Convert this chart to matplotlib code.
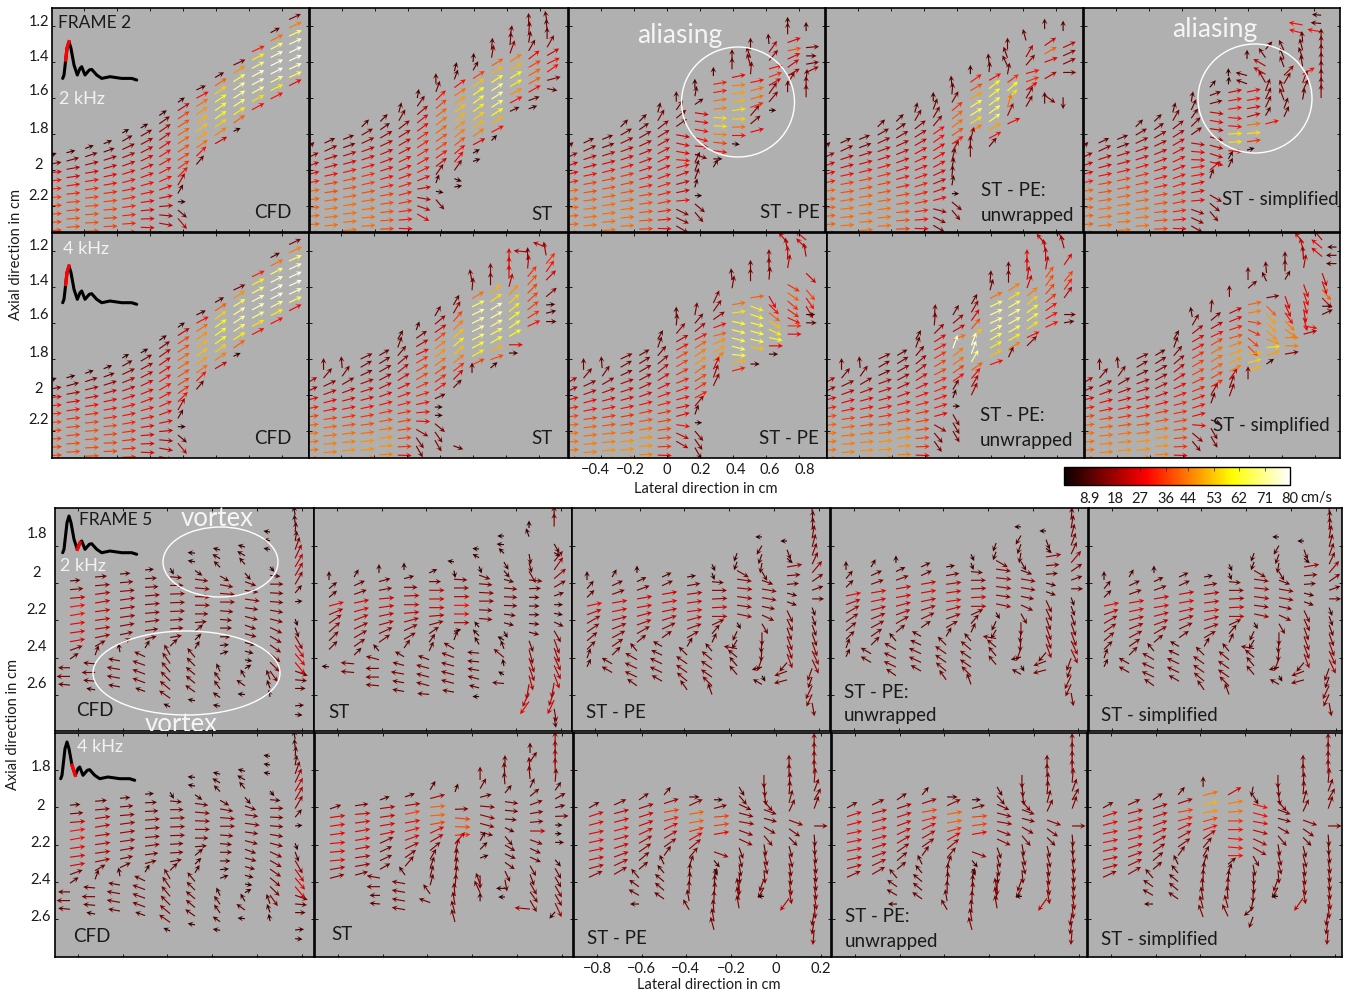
import numpy as np
import matplotlib
matplotlib.use('Agg')
import matplotlib.pyplot as plt
from matplotlib.cm import ScalarMappable
from matplotlib.colors import Normalize
from matplotlib.lines import Line2D
from matplotlib.patches import Ellipse

plt.rcParams['font.family'] = ['Lato', 'DejaVu Sans']
W, H = 1353, 999

# column positions (cm), arrow tails
F2_X = [-0.618, -0.506, -0.393, -0.281, -0.168, -0.056, 0.056, 0.169, 0.281, 0.394, 0.506, 0.618, 0.731, 0.843, 0.93]
F5_X = [-0.835, -0.723, -0.612, -0.5, -0.388, -0.277, -0.165, -0.054, 0.058, 0.17]
F2_DY = 0.046
F5_DY = 0.0465

# each column: (top row in cm, angle in degrees per row, speed in cm/s per row; speed 0 = no arrow)
F2_CFD = [
    (1.923, [20,10,5,5,5,3,3,3,3,3], [8,15,26,30,33,36,36,36,36,36]),
    (1.904, [15,15,10,8,8,6,5,5,4,4,3], [8,14,20,26,30,33,36,36,38,38,38]),
    (1.88, [20,18,14,10,9,8,6,5,4,3,2], [8,14,20,26,30,33,36,38,38,38,38]),
    (1.854, [22,20,18,15,12,10,8,6,5,3,2,0], [8,12,18,24,28,30,33,36,36,36,36,36]),
    (1.794, [30,30,25,22,20,18,15,12,10,8,6,4,2,0], [6,12,16,20,24,28,30,30,33,33,33,33,33,33]),
    (1.766, [30,30,28,27,25,22,20,16,12,8,5,2,-2,-5], [7,14,18,22,25,27,28,30,30,28,26,26,26,24]),
    (1.697, [35,35,35,35,33,32,30,28,24,20,12,5,-5,-10,-15], [8,14,20,24,28,30,30,30,30,28,26,22,20,22,26]),
    (1.624, [35,33,33,33,33,33,33,33,35,45,60,60,0,-40,-50], [7,22,36,38,40,40,38,36,34,30,20,10,6,12,22]),
    (1.555, [25,28,33,35,35,35,35,35,45,50], [10,30,42,46,50,52,48,42,30,12]),
    (1.486, [30,33,35,35,35,35,35,35,30], [10,40,54,60,62,60,54,44,24]),
    (1.417, [25,33,33,33,33,33,33,35,25], [14,46,66,72,72,68,58,40,6]),
    (1.343, [25,27,28,28,28,28,28,28], [32,58,68,75,75,70,56,30]),
    (1.237, [28,27,27,27,27,27,27,27,27], [10,42,68,75,78,78,70,58,30]),
    (1.164, [25,25,25,25,25,25,25,25,27], [14,44,68,75,78,78,75,66,28]),
]

F2_LEFT = [
    (1.89, [45,25,20,15,12,8,6,5,5,4,3], [12,18,24,28,32,40,40,40,40,40,40]),
    (1.85, [25,25,18,15,12,10,8,8,7,6,5,4], [12,16,22,26,30,36,38,40,42,42,42,42]),
    (1.83, [22,20,18,15,14,12,10,9,8,6,5,4], [12,14,22,26,30,36,38,40,42,42,42,42]),
    (1.76, [45,30,25,20,18,16,14,12,10,8,7,5,4,3], [10,14,18,22,26,30,34,36,38,40,42,42,42,40]),
    (1.73, [45,35,30,25,22,20,18,15,12,10,8,6,4,2,0], [10,12,16,20,24,26,28,30,32,36,38,38,38,36,36]),
    (1.68, [75,60,38,32,30,28,25,22,20,18,15,12,8,5,-2,-8], [10,14,16,20,24,26,28,28,30,32,32,34,32,30,28,26]),
]

F2_LEFT4 = [
    (1.94, [30,25,15,10,8,6,5,4,4,3], [20,18,26,32,36,40,42,42,42,42]),
    (1.86, [90,50,25,20,15,12,8,7,6,5,4,3], [12,14,16,22,28,30,36,40,42,44,44,44]),
    (1.85, [95,55,30,20,15,12,10,8,7,5,4,3], [12,14,16,22,26,30,34,38,42,44,46,46]),
    (1.80, [25,30,25,20,18,15,12,10,8,7,6,5,4], [14,14,14,20,24,26,30,34,38,42,46,46,44]),
    (1.78, [30,32,30,28,25,20,15,12,10,8,6,4,2,0], [12,14,16,18,22,26,30,34,38,42,46,46,44,40]),
    (1.69, [60,70,50,40,38,32,25,20,15,12,10,8,5,2,-2,-5], [10,12,14,18,22,26,28,30,32,34,36,36,36,34,28,24]),
]

F2_ST = [
    (1.60, [80,55,40,38,36,34,33,32,30,26,22,10,-10,-20,-30], [8,14,20,26,28,32,32,32,30,30,28,24,20,22,26]),
    (1.52, [90,70,45,40,38,37,36,35,35,35,38,55,70,-10,-50], [10,12,30,36,40,42,40,38,36,30,24,14,8,6,14]),
    (1.45, [75,70,36,33,36,36,36,36,38,38,40,50,55,-20,10], [8,10,30,42,48,52,50,46,44,38,30,28,14,6,6]),
    (1.40, [85,60,33,36,36,36,36,36,36,36,28,30,20], [8,10,36,52,60,62,58,54,50,44,26,6,6]),
    (1.33, [85,80,32,36,33,33,33,33,33,36,28,45], [12,14,40,50,62,70,72,68,60,50,30,6]),
    (1.26, [80,85,70,33,30,30,30,28,28,25], [12,14,18,44,50,60,58,46,30,10]),
    (1.20, [90,85,80,60,38,30,30,30,30,20,20], [14,14,12,14,28,36,40,40,30,12,8]),
    (1.18, [100,95,90,60,30,25,35,15,-10], [12,12,12,16,24,30,30,16,10]),
]

F2_PE = [
    (1.62, [90,55,40,35,-10,-12,-10,-5,15,20,15,12,5,-25,-25,-30], [10,12,14,14,24,28,28,30,30,26,24,24,30,16,16,16]),
    (1.544, [90,80,35,-8,-8,-10,-15,-5,-20,65,70,70,75,0,-40,-50], [8,10,10,25,28,30,30,26,14,12,12,12,8,5,14,14]),
    (1.478, [90,10,10,8,6,-3,-3,-3,-5,-8,0,60], [8,32,32,42,44,56,56,44,36,30,8,8]),
    (1.394, [90,90,12,5,8,10,8,0,2,0,-5], [12,12,28,44,48,50,56,54,42,30,6]),
    (1.33, [90,110,105,85,12,15,15,20,50,40,15], [12,12,14,14,30,42,42,34,16,14,28]),
    (1.30, [95,55,50,15,20,30,55,50,0], [10,20,16,30,34,24,16,16,5]),
    (1.20, [90,90,20,12,25,35,30,60,90], [8,12,26,38,26,24,20,16,12]),
    (1.228, [90,0,5,0,10,25,85,90,90], [8,0,14,10,14,18,12,14,14]),
]

F2_UNW = [
    (1.617, [90,70,60,50,35,35,32,30,28,25,22,20,15,-15,-25,-30], [8,12,14,16,30,30,28,28,28,26,24,26,28,18,16,14]),
    (1.533, [95,85,60,40,38,36,34,34,60,75,80,85,80,0,-40,-50], [10,12,14,34,40,42,38,32,18,14,12,12,10,5,14,14]),
    (1.467, [90,36,30,30,32,32,32,33,75,90,90], [8,32,38,48,64,66,56,44,16,14,14]),
    (1.41, [95,85,30,38,38,36,36,36,30,28,50], [10,10,30,60,62,64,66,66,48,30,12]),
    (1.33, [90,110,115,80,36,42,45,75,65,25], [12,12,12,12,34,60,56,42,18,28]),
    (1.28, [105,100,60,50,15,20,35,60,60], [12,0,20,16,30,34,28,16,14]),
    (1.217, [90,90,35,30,20,0,30,0,-35,90], [10,0,24,40,26,0,22,0,14,12]),
    (1.228, [90,0,25,25,25,0,0,0,-90], [10,0,22,18,16,14,0,0,12]),
]

F2_SIMP = [
    (1.62, [80,65,55,45,35,-8,-5,-2,8,10,12,10,5,-20,-25,-30], [10,12,12,14,14,24,28,28,30,30,28,26,28,18,16,14]),
    (1.54, [50,20,15,-8,-10,-8,-15,-15,-18,-15,40,70,0,-30,-40,-50], [8,12,14,24,28,22,20,22,24,26,24,10,0,16,14,14]),
    (1.478, [90,85,12,10,8,-5,-5,3,3,-5,60,65], [6,6,24,30,30,30,30,56,56,28,8,10]),
    (1.383, [90,0,165,160,12,10,10,15,8,5,8,15], [8,0,12,12,28,30,26,24,42,56,34,6]),
    (1.33, [50,125,150,150,120,70,65,65,60,15], [10,12,20,22,16,14,14,14,10,30]),
    (1.29, [100,115,110,110,45,60,110,110,70,65], [0,12,12,12,18,14,14,14,12,12]),
    (1.194, [170,165,95,105,110,100,30,70,65,80], [30,30,10,12,12,12,30,18,14,12]),
    (1.14, [175,175,170,90,90,90,90,90,90,90,90], [8,10,30,12,14,14,14,14,14,14,16]),
]

F2_ST4 = [
    (1.639, [70,35,30,25,30,30,30,25,18,12,5,-2,-30,-55,-60], [8,14,22,28,34,36,36,34,32,30,30,28,18,14,14]),
    (1.561, [60,40,35,38,38,38,36,35,35,35,25,0,0,-40,-55,-60], [12,18,24,36,44,46,42,36,32,30,12,6,6,14,14,14]),
    (1.50, [60,60,50,44,42,40,40,38,38,45,45,0,0,0,0,0,0,-20], [12,18,36,44,52,58,52,44,34,24,12,0,0,0,0,0,0,10]),
    (1.372, [100,85,30,26,26,26,26,26,28,30,25,90], [14,14,42,66,72,72,72,68,62,58,36,10]),
    (1.344, [90,90,40,35,32,30,30,30,30,26,20,40], [16,14,50,56,74,72,70,66,62,50,38,8]),
    (1.261, [90,90,90,75,48,42,40,38,35,30,0,0], [26,26,26,22,46,54,58,60,62,60,28,8]),
    (1.205, [175,90,85,50,48,45,42,38,32,25], [20,14,20,34,38,36,36,36,34,30]),
    (1.178, [160,100,50,55,45,0,40,5,15,0], [22,18,34,30,24,0,16,8,10,10]),
]

F2_PE4 = [
    (1.567, [90,85,50,30,28,30,30,28,22,20,15,12,15,-8,-25,-30], [10,12,18,22,30,36,36,34,32,30,30,28,28,30,24,20]),
    (1.556, [80,50,40,28,32,35,35,35,32,32,28,50,70,0,-50,-55,-60], [14,14,20,30,40,44,46,40,36,34,32,18,10,5,14,14,14]),
    (1.489, [65,55,35,20,15,25,30,40,65,70,65], [16,16,18,30,40,46,48,44,24,18,16]),
    (1.361, [95,80,0,10,8,-12,-15,-15,-15,-5,10,15], [12,14,0,42,56,62,64,64,66,64,50,32]),
    (1.322, [90,90,0,8,-20,-18,-15,-15,-12,-5,0,0], [14,14,0,40,58,60,62,64,64,52,0,8]),
    (1.267, [90,90,85,0,-60,-45,-38,-32,-25,-12,0,0], [16,16,14,0,26,30,40,52,58,60,28,8]),
    (1.156, [130,100,90,80,0,-30,-35,-40,-35,-25,0,0], [24,20,24,20,0,34,40,34,32,30,34,28]),
    (1.139, [140,135,100,0,-45,0,-50,-55,-60,0,0], [26,24,20,0,24,0,36,30,24,8,10]),
]

F2_UNW4 = [
    (1.567, [85,85,45,32,28,30,30,28,25,22,20,18,15,-30,-50,-55], [14,14,18,26,30,34,36,36,32,32,30,30,28,18,14,14]),
    (1.556, [60,40,30,22,70,40,35,35,35,60,70,0,-60,-60,-60], [12,18,24,42,76,44,42,36,30,12,8,5,14,14,14]),
    (1.495, [60,60,55,50,38,70,70,60,35,50,60,65], [12,18,26,38,52,76,76,70,40,28,22,18]),
    (1.372, [85,75,28,25,25,25,28,30,30,30,20], [12,12,42,68,72,72,70,66,58,52,30]),
    (1.33, [90,90,35,32,30,30,30,30,30,30,65], [14,14,44,56,68,70,70,66,58,44,12]),
    (1.267, [90,90,80,70,40,38,36,35,35,25,45], [26,26,24,24,44,54,60,62,56,30,16]),
    (1.164, [130,100,90,80,55,55,50,40,35,30,25], [22,22,22,22,38,38,36,34,30,30,30]),
    (1.139, [130,105,0,55,0,50,55,55,0,0,10], [20,18,0,26,0,36,32,20,0,12,10]),
]

F2_SIMP4 = [
    (1.567, [100,60,38,30,28,30,30,28,25,22,20,18,15,-5,-40,-50], [10,14,20,26,30,34,36,36,34,32,30,30,28,28,18,14]),
    (1.54, [85,40,30,25,30,30,30,30,30,30,60,70,0,-20,-60,-60], [14,14,22,30,36,42,42,40,36,34,18,12,0,10,14,14]),
    (1.455, [90,0,25,22,18,15,20,22,25,28,55,70,70], [12,0,22,26,32,38,44,48,48,44,24,16,16]),
    (1.361, [90,40,0,12,10,-10,-25,-40,-45,10,15,20,90], [14,12,0,40,44,36,34,36,36,50,54,50,14]),
    (1.322, [95,115,0,10,-45,-45,-45,-40,-20,5,20,35], [12,10,0,14,40,48,48,46,46,56,48,8]),
    (1.267, [90,90,60,0,-70,-65,-55,-45,-35,0,0,10], [12,12,10,0,26,26,30,44,44,44,44,16]),
    (1.156, [130,105,95,80,0,-70,-70,-75,-80,-75,-10,15], [24,22,18,20,0,26,28,28,26,28,30,20]),
    (1.139, [130,140,140,0,-70,-70,-50,-45,0,25], [22,28,26,0,24,26,40,24,10,12]),
    (1.178, [180,180,180], [8,10,10]),
]

F5_CFD = [
    (1.989, [5,5,5,8,10,8,8,10,20,35,180,180,175], [10,14,22,30,30,28,26,26,14,10,12,14,12]),
    (1.968, [5,5,8,10,8,8,8,12,30,70,175,180,175,170], [12,16,20,22,22,22,20,18,12,10,12,14,12,8]),
    (1.952, [5,5,5,8,8,8,10,12,25,100,170,170,170,170], [10,14,16,18,18,18,16,14,12,8,12,14,14,12]),
    (1.93, [5,3,3,5,5,5,8,8,15,60,155,160,160,160,160], [8,12,14,16,16,16,16,14,12,8,12,14,14,14,10]),
    (1.92, [-60,-5,0,2,2,2,4,4,10,45,120,125,130,135,140,145,155], [6,12,14,16,16,16,14,14,12,10,12,14,14,14,14,14,6]),
    (1.84, [175,170,-35,-8,-5,-2,0,0,5,40,45,60,130,135,140,140,145,170], [6,6,8,14,16,16,16,14,12,10,8,8,12,12,12,12,12,6]),
    (1.823, [165,150,135,-30,-10,-5,0,-5,-5,0,0,5,20,0,115,125,125,145,170], [6,8,8,10,14,16,16,14,12,12,10,8,8,0,8,10,10,8,6]),
    (1.807, [165,150,130,-50,-20,-8,-8,-8,-15,-20,-15,-15,-15,-10,30,120,145,175], [6,8,8,8,12,14,16,14,14,12,12,10,8,6,6,8,10,6]),
    (1.727, [170,170,170,0,-50,-5,0,-3,-5,-10,-15,-25,-30,-35,-40,-45,-55,110,110,100], [5,5,5,0,5,10,14,14,14,14,14,14,14,14,14,14,14,10,8,6]),
    (1.635, [100,95,85,80,70,65,60,60,60,50,5,0,-70,-70,-60,-55,-50,-50,-20,-5,0,0,5,-5], [8,8,10,10,14,18,22,20,16,10,6,0,6,10,16,24,26,26,14,12,10,0,8,6]),
]

F5_ST = [
    (1.984, [90,40,40,15,23,35,42,45,45,0,175], [8,10,10,28,20,18,16,14,12,0,6]),
    (1.968, [60,25,20,12,15,22,25,30,35,45,175,175], [8,12,14,24,26,22,18,16,14,10,14,14]),
    (1.946, [90,15,10,5,8,12,15,25,35,130,165,180,180,175], [8,12,14,24,24,22,20,16,14,8,14,14,14,14]),
    (1.93, [90,15,0,2,0,5,15,25,30,55,150,165,170,170,170], [6,10,14,22,24,24,20,16,14,10,10,12,14,12,12]),
    (1.946, [25,0,0,0,0,5,15,35,55,65,160,165,165,165,175], [8,12,22,24,24,20,16,12,10,10,12,14,14,14,12]),
    (1.887, [170,-80,-3,0,0,0,0,0,15,70,150,160,165,165,165,170], [5,6,14,16,22,30,28,20,6,10,12,14,14,14,14,12]),
    (1.818, [175,150,-70,-20,-5,-3,0,-3,-5,130,135,120,175,175,170,165,165,180], [5,6,6,12,14,16,16,14,14,6,8,8,12,12,12,12,10,5]),
    (1.748, [180,175,135,-60,-50,-15,-5,-3,-2,-8,-15,-60,150,110,140,100,150,175], [5,6,6,8,8,10,14,14,14,12,10,6,6,8,14,6,5,12]),
    (1.705, [90,110,0,-80,-75,-60,-5,2,0,0,0,-5,-15,-70,-75,-70,-70,-75,-100,-115,-125], [6,8,0,10,10,14,14,12,10,10,10,10,10,12,16,18,18,20,20,22,26]),
    (1.651, [90,90,0,-60,-30,50,55,40,30,20,0,-10,-25,-60,-70,-70,-65,-65,-70,-100,-110,-115,-80,-80], [12,14,0,10,6,14,18,18,14,10,8,8,10,14,18,18,20,20,22,20,20,24,14,10]),
]

F5_PE = [
    (1.984, [90,50,45,12,20,30,35,40,45,70,65], [8,10,10,28,22,18,16,14,12,10,8]),
    (1.968, [60,25,20,10,12,15,22,28,35,45,150,150], [8,12,14,26,26,22,18,16,14,12,12,12]),
    (1.946, [90,25,20,10,10,15,20,30,40,130,150,155,155,145], [6,10,14,24,26,24,20,16,12,10,14,14,14,12]),
    (1.968, [25,25,10,10,12,18,25,35,150,155,155,155,150], [10,12,24,26,24,20,16,12,10,12,14,14,12]),
    (1.968, [10,10,8,8,8,15,20,30,60,135,145,145,140,125], [8,14,20,24,26,22,18,14,10,12,14,14,14,12]),
    (1.90, [-65,-70,-5,0,3,3,0,25,50,65,130,140,145,145,135,110], [6,6,12,16,18,24,22,14,12,10,10,14,14,14,14,12]),
    (1.84, [-110,-110,-30,-8,-6,-8,-8,-12,-60,-115,-120,170,140,130,130], [8,8,14,16,18,18,16,18,6,10,10,14,12,12,12]),
    (1.753, [180,-120,-110,-100,-60,-20,-10,-10,-12,-25,-60,-90,-95,-95,-110,-165,-60,150], [5,10,10,10,10,12,16,16,14,14,12,14,12,12,14,10,5,10]),
    (1.775, [180,-70,-40,10,5,5,-15,-20,-65,-65,-70,-70,-70,-70,-130,-160,-165], [5,10,6,18,14,12,10,10,14,14,14,16,16,18,12,14,14]),
    (1.62, [90,85,85,80,75,70,65,50,35,20,0,-70,-70,-70,-70,-70,-65,-65,-110,-110,-115,-115,-80], [10,10,12,14,14,14,14,18,14,12,12,8,10,12,14,16,18,18,14,12,16,14,14]),
]

F5_ST4 = [
    (2.009, [20,8,8,8,5,5,5,10,15], [12,26,28,28,28,26,26,20,16]),
    (1.992, [8,5,8,10,10,10,8,10,15], [14,24,26,26,26,24,20,18,14]),
    (1.961, [20,8,8,10,12,25,25,25,30,170,180,180,175], [10,20,24,26,26,16,14,14,12,14,14,10,10]),
    (1.945, [20,8,12,10,15,20,25,35,50,125,170,170,170,170], [10,20,36,28,30,26,20,14,14,10,14,14,14,14]),
    (1.907, [60,15,5,5,10,25,30,40,60,70,75,75,125,160], [10,20,40,40,36,26,20,14,12,12,12,12,12,12]),
    (1.918, [70,0,2,-5,-2,3,50,75,80,80,80,85,95,100,105,105], [8,0,14,36,38,34,22,16,14,14,14,14,14,14,14,14]),
    (1.854, [90,60,15,-5,-15,-15,-15,60,45,20,0,-90,110,115,90], [14,12,12,16,18,16,14,10,10,8,0,14,12,14,8]),
    (1.784, [90,95,95,50,-8,-5,-5,-25,-50,-30,-25,-35,-65,-80,180,180], [12,14,12,10,14,14,12,10,12,12,12,12,12,12,8,5]),
    (1.709, [90,55,95,95,65,40,20,10,5,0,-20,-25,-25,-60,-70,-60,-55,-60,175], [10,12,14,14,10,12,14,14,14,22,14,12,12,12,12,14,14,14,18]),
    (1.677, [90,90,90,90,85,55,30,15,2,0,0,0,-30,-50,-60,-60,-60,-60,-65,-130], [18,18,18,18,14,10,12,10,14,6,5,8,0,8,12,12,14,14,18,8]),
]

F5_PE4 = [
    (2.004, [30,18,15,12,12,12,12,15,25], [12,26,28,28,28,26,24,22,16]),
    (1.988, [25,15,15,15,15,18,20,25,30], [14,22,26,28,26,24,22,20,16]),
    (1.961, [35,18,18,20,25,30,35,40,40,130,145,150,180], [12,18,24,24,24,20,16,14,12,12,12,12,8]),
    (1.934, [50,18,10,15,25,30,35,55,115,130,140,140,145], [10,18,36,32,26,22,16,12,10,10,12,12,12]),
    (1.945, [0,25,10,10,15,30,40,50,70,85,85,90,100,120], [10,16,40,40,34,26,18,14,12,12,12,12,12,12]),
    (1.96, [0,15,5,8,10,0,-20,-50,-60,75,85,85,90,95,100,105], [8,14,36,36,28,0,18,8,6,10,12,14,14,14,14,14]),
    (1.891, [-60,-50,-25,-15,-10,-20,-25,-70,-75,-80,-85,-90,100,100,100], [10,12,14,16,18,16,16,12,12,12,10,14,14,14,14]),
    (1.827, [-90,-85,-80,-50,-20,-15,-30,-50,-80,-75,-75,-85,-110,-120,180], [14,14,14,14,14,14,14,14,12,14,14,14,14,12,5]),
    (1.79, [90,90,85,85,75,65,-20,-35,-45,-75,-75,-80,-80,-80,-80,-125], [14,14,14,14,14,14,16,14,12,12,14,14,14,16,16,22]),
    (1.682, [90,90,90,90,85,70,60,70,30,0,-85,-85,-80,-80,-80,-80,-80,-80,-85,-100,-100,-95], [16,16,16,16,16,14,14,14,0,14,12,12,12,14,14,14,14,16,16,14,14,16]),
]

F5_SIMP4 = F5_PE4[:4] + [
    (1.891, [90,15,10,10,15,20,35,50,60,70,85,90,95,100,105,110], [10,42,50,46,36,30,20,14,12,12,12,14,14,14,14,14]),
    (1.934, [30,10,5,0,0,-5,-5,0,40,70,85,90,95,105,115], [24,44,42,34,30,30,30,30,10,10,12,14,14,14,14]),
    (1.89, [-100,-60,-15,-15,-10,-15,-25,-30,-60,-80,-85,-85,-90,-100,-140,-110], [10,10,30,30,28,22,20,18,12,12,12,12,12,12,12,12]),
] + F5_PE4[7:]

# panel edges in the picture: left, top, right, bottom
F2_ROW1 = [(52, 8, 309, 232), (310, 8, 568, 232), (569, 8, 825, 232), (826, 8, 1083, 232), (1084, 8, 1340, 232)]
F2_ROW2 = [(52, 233, 309, 458), (309, 233, 568, 458), (569, 233, 827, 458), (827, 233, 1084, 458), (1085, 233, 1340, 458)]
F5_ROW1 = [(55, 508, 314, 731), (314, 508, 572, 731), (572, 508, 830, 731), (831, 508, 1088, 731), (1089, 508, 1342, 731)]
F5_ROW2 = [(55, 733, 314, 957), (315, 733, 573, 957), (574, 733, 831, 957), (832, 733, 1087, 957), (1088, 733, 1342, 957)]

F2_FIELDS1 = [F2_CFD, F2_LEFT + F2_ST, F2_LEFT + F2_PE, F2_LEFT + F2_UNW, F2_LEFT + F2_SIMP]
F2_FIELDS2 = [F2_CFD, F2_LEFT4 + F2_ST4, F2_LEFT4 + F2_PE4, F2_LEFT4 + F2_UNW4, F2_LEFT4 + F2_SIMP4]
F5_FIELDS1 = [F5_CFD, F5_ST, F5_PE, F5_PE, F5_PE]
F5_FIELDS2 = [F5_CFD, F5_ST4, F5_PE4, F5_PE4, F5_SIMP4]
F5_SHIFT1 = [0, 0, 0, -0.054, 0]

# pressure waveform under the frame labels, picture pixels relative to its peak
WAVE_X = [-6.3, -5, -3.3, -2, 0, 2, 5, 8.3, 11, 12.7, 16, 20.3, 22.7, 27.7, 32.7, 41, 52.7, 62.7, 67.7]
WAVE_Y = [36.7, 33.3, 18.3, 6.7, 0, 6.7, 23.3, 33.3, 26.7, 25, 33.3, 28.3, 27.7, 33.3, 36.7, 35, 36.7, 36.7, 38.3]
WAVE_PEAK = [(69, 41.7), (69, 266), (69, 516), (67, 742)]
WAVE_RED = [(2, 5), (2, 5), (7, 9), (6, 8)]

BAR_TICKS = [8.9, 18, 27, 36, 44, 53, 62, 71, 80]

fig = plt.figure(figsize=(W / 100, H / 100), dpi=100)


def px(x, y):
    return x / W, 1 - y / H


def ptext(x, y, s, size=13, color='#1a1a1a', **kw):
    kw.setdefault('ha', 'left')
    kw.setdefault('va', 'center')
    fig.text(*px(x, y), s, fontsize=size, color=color, zorder=6, **kw)


def draw_panel(rect, field, xs, dy, x0, cm_w, yl, xticks, yticks, yshift=0):
    l, t, r, b = rect
    ax = fig.add_axes([l / W, 1 - b / H, (r - l) / W, (b - t) / H])
    ax.set_facecolor('#b0b0b0')
    X, Y, U, V, C = [], [], [], [], []
    limit, base, slope = (14, 4, 0.65) if dy == F2_DY else (15.5, 3, 0.75)
    for xc, (top, angs, spds) in zip(xs, field):
        for k, (a, s) in enumerate(zip(angs, spds)):
            if s == 0:
                continue
            length = min(limit, base + slope * s)
            X.append(xc)
            Y.append(top + k * dy + yshift)
            U.append(length * np.cos(np.radians(a)))
            V.append(length * np.sin(np.radians(a)))
            C.append(s)
    ax.quiver(X, Y, U, V, C, cmap='hot', clim=(0, 80), angles='uv', scale_units='dots', scale=1,
              units='dots', width=1.15, headwidth=5, headlength=5, headaxislength=3.2, minshaft=0.5,
              pivot='tail')
    ax.set_xlim(x0, x0 + (r - l) / cm_w)
    ax.set_ylim(*yl)
    ax.set_xticks(xticks)
    ax.set_yticks(yticks)
    ax.tick_params(direction='in', length=2.5, width=0.6, top=True, right=True,
                   labelleft=False, labelbottom=False)
    for s in ax.spines.values():
        s.set_linewidth(1.2)
    return ax


f2_xt = [-0.4, -0.2, 0, 0.2, 0.4, 0.6, 0.8]
f2_yt = [1.2, 1.4, 1.6, 1.8, 2, 2.2]
f5_xt = [-0.8, -0.6, -0.4, -0.2, 0, 0.2]
f5_yt = [1.8, 2, 2.2, 2.4, 2.6]

axs = []
for rect, fld in zip(F2_ROW1, F2_FIELDS1):
    axs.append(draw_panel(rect, fld, F2_X, F2_DY, -0.594, 165, (2.344, 1.1), f2_xt, f2_yt))
for rect, fld in zip(F2_ROW2, F2_FIELDS2):
    axs.append(draw_panel(rect, fld, F2_X, F2_DY, -0.594, 165, (2.35, 1.1), f2_xt, f2_yt))
for rect, fld, sh in zip(F5_ROW1, F5_FIELDS1, F5_SHIFT1):
    axs.append(draw_panel(rect, fld, F5_X, F5_DY, -0.902, 224, (2.793, 1.598), f5_xt, f5_yt, sh))
for rect, fld in zip(F5_ROW2, F5_FIELDS2):
    axs.append(draw_panel(rect, fld, F5_X, F5_DY, -0.902, 224, (2.803, 1.602), f5_xt, f5_yt))

# waveforms
for (px0, py0), (a, b) in zip(WAVE_PEAK, WAVE_RED):
    xx = [px(px0 + dx, py0 + dy_)[0] for dx, dy_ in zip(WAVE_X, WAVE_Y)]
    yy = [px(px0 + dx, py0 + dy_)[1] for dx, dy_ in zip(WAVE_X, WAVE_Y)]
    fig.add_artist(Line2D(xx, yy, color='black', lw=2.2, zorder=5, solid_capstyle='round'))
    fig.add_artist(Line2D(xx[a:b], yy[a:b], color='red', lw=2.4, zorder=5.5))

# circles marking aliasing and vortices
for cx, cy, ew, eh in [(738, 102, 113, 110), (1255, 98.5, 114, 109), (220.5, 562, 115, 70), (186.5, 673, 187, 84)]:
    fig.add_artist(Ellipse(px(cx, cy), ew / W, eh / H, fill=False, ec='white', lw=1.0,
                           transform=fig.transFigure, zorder=5))

# tick labels
for vals, ys, xp in [
    (['1.2', '1.4', '1.6', '1.8', '2', '2.2'], [22, 57, 91, 129, 165, 196], 39),
    (['1.2', '1.4', '1.6', '1.8', '2', '2.2'], [246, 281, 315, 353, 389, 420], 39),
    (['1.8', '2', '2.2', '2.4', '2.6'], [534, 573, 610, 647, 684], 37),
    (['1.8', '2', '2.2', '2.4', '2.6'], [767, 806, 843, 880, 917], 41),
]:
    for v, y in zip(vals, ys):
        ptext(xp, y, v, size=10.5, ha='center')
for v, x in zip(['\u22120.4', '\u22120.2', '0', '0.2', '0.4', '0.6', '0.8'], [595, 630, 667, 701, 736, 770, 805]):
    ptext(x, 470, v, size=10.5, ha='center')
for v, x in zip(['\u22120.8', '\u22120.6', '\u22120.4', '\u22120.2', '0', '0.2'], [597, 641, 685, 731, 776, 821]):
    ptext(x, 969, v, size=10.5, ha='center')
ptext(706, 489, 'Lateral direction in cm', size=10.5, ha='center')
ptext(709, 985, 'Lateral direction in cm', size=10.5, ha='center')
ptext(16, 255, 'Axial direction in cm', size=10.5, ha='center', rotation=90)
ptext(13, 724, 'Axial direction in cm', size=10.5, ha='center', rotation=90)

# panel labels
ptext(58, 23, 'FRAME 2', size=12.5)
ptext(79, 520, 'FRAME 5', size=12.5)
for x, y, s in [(59, 99, '2 kHz'), (63, 249, '4 kHz'), (60, 566, '2 kHz'), (77, 747, '4 kHz')]:
    ptext(x, y, s, size=13, color='#f2f2f2')
for x, y, s in [
    (254, 213, 'CFD'), (531, 214, 'ST'), (760, 212, 'ST - PE'), (981, 191, 'ST - PE:'), (981, 215, 'unwrapped'),
    (1222, 199, 'ST - simplified'),
    (254, 439, 'CFD'), (531, 439, 'ST'), (759, 438, 'ST - PE'), (980, 416, 'ST - PE:'), (980, 440, 'unwrapped'),
    (1213, 425, 'ST - simplified'),
    (76, 711, 'CFD'), (328, 712, 'ST'), (586, 712, 'ST - PE'), (844, 692, 'ST - PE:'), (844, 716, 'unwrapped'),
    (1101, 715, 'ST - simplified'),
    (73, 937, 'CFD'), (331, 935, 'ST'), (587, 938, 'ST - PE'), (845, 917, 'ST - PE:'), (845, 941, 'unwrapped'),
    (1101, 940, 'ST - simplified'),
]:
    ptext(x, y, s, size=13.5)
ptext(637, 35, 'aliasing', size=19, color='#f5f5f5')
ptext(1172, 30, 'aliasing', size=19, color='#f5f5f5')
ptext(181, 519, 'vortex', size=18.5, color='#f5f5f5')
axs[10].text(90 / 259, 1 - 217 / 223, 'vortex', transform=axs[10].transAxes, fontsize=18.5, color='#f5f5f5',
             ha='left', va='center', clip_on=True, zorder=6)

# colour bar
cax = fig.add_axes([1064 / W, 1 - 485 / H, 226 / W, 18 / H])
cb = fig.colorbar(ScalarMappable(Normalize(0, 80), 'hot'), cax=cax, orientation='horizontal')
cb.set_ticks(BAR_TICKS)
cb.set_ticklabels(['8.9', '18', '27', '36', '44', '53', '62', '71', '80'])
cax.tick_params(direction='in', length=3, width=0.5, labelsize=10.5, pad=5, top=True, bottom=False, color='#222222')
cax.tick_params(labelcolor='#1a1a1a')
cb.outline.set_linewidth(1.0)
ptext(1300, 498, 'cm/s', size=10.5)

fig.savefig('out.png', dpi=100, facecolor='white')
